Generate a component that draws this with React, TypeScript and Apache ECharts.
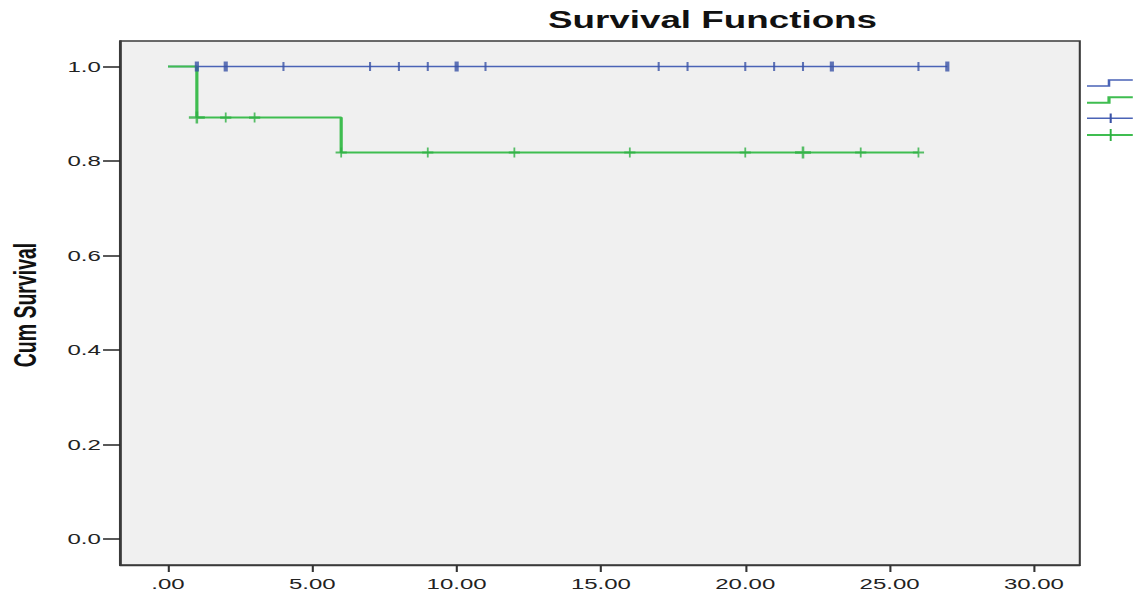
import { useEffect, useRef } from 'react';
import * as echarts from 'echarts';

// The plot is laid out in a narrow frame and widened horizontally by CSS.
const STRETCH = 1.6;
const PAGE_W = 1133;
const PAGE_H = 595;
const FRAME_W = PAGE_W / STRETCH;

const xTicks = [0, 5, 10, 15, 20, 25, 30];
const xTickLabels = ['.00', '5.00', '10.00', '15.00', '20.00', '25.00', '30.00'];
const yTicks = [0, 0.2, 0.4, 0.6, 0.8, 1.0];
const yTickLabels = ['0.0', '0.2', '0.4', '0.6', '0.8', '1.0'];

// Group drawn in blue: no events, survival stays at 1
const blueTimes = [0, 27];
const blueSurvival = [1.0, 1.0];
const blueCensored = [1, 1, 2, 2, 4, 7, 8, 9, 10, 10, 11, 17, 18, 20, 21, 22, 23, 23, 26, 27, 27];

// Group drawn in green: drops at 1 and 6
const greenTimes = [0, 1, 6, 26];
const greenSurvival = [1.0, 0.892, 0.818, 0.818];
const greenCensored = [1, 1, 2, 3, 6, 9, 12, 16, 20, 22, 22, 24, 26];

const BLUE = '#4a63b6';
const BLUE_MARK = '#3a52a6';
const GREEN = '#3fbd50';
const GREEN_MARK = '#2fb043';
const FONT = '"Liberation Sans", Arial, sans-serif';

const PLUS = 'path://M4.2,0H5.8V3.9H10V6.1H5.8V10H4.2V6.1H0V3.9H4.2Z';

function survivalAt(times: number[], surv: number[], t: number) {
  let s = surv[0];
  for (let i = 0; i < times.length; i++) if (times[i] <= t) s = surv[i];
  return s;
}

function censorMarks(times: number[], surv: number[], censored: number[], single: number[], double: number[]) {
  const counts = new Map<number, number>();
  censored.forEach((t) => counts.set(t, (counts.get(t) || 0) + 1));
  return Array.from(counts.entries()).map(([t, n]) => ({
    value: [t, survivalAt(times, surv, t)],
    symbolSize: n > 1 ? double : single,
  }));
}

function tickLabel(ticks: number[], labels: string[], v: number) {
  const i = ticks.findIndex((t) => Math.abs(t - v) < 1e-9);
  return i >= 0 ? labels[i] : '';
}

export default function App() {
  const ref = useRef<HTMLDivElement>(null);

  useEffect(() => {
    if (!ref.current) return;
    const chart = echarts.init(ref.current, null, { renderer: 'svg' });

    const legendX0 = 1087 / STRETCH;
    const legendStep = 1109 / STRETCH;
    const legendMark = 1110.7 / STRETCH;
    const legendX1 = 1140 / STRETCH;

    chart.setOption({
      animation: false,
      backgroundColor: '#ffffff',
      grid: {
        left: 120 / STRETCH,
        right: FRAME_W - 1080 / STRETCH,
        top: 41,
        bottom: PAGE_H - 565,
        show: true,
        backgroundColor: '#f0f0f0',
        borderColor: '#3a3a3a',
        borderWidth: 1.3,
      },
      xAxis: {
        type: 'value',
        min: -1.663,
        max: 31.59,
        axisLine: { show: true, onZero: false, lineStyle: { color: '#3a3a3a', width: 1.3 } },
        axisTick: { show: true, customValues: xTicks, length: 7, lineStyle: { color: '#333', width: 1.3 } },
        axisLabel: {
          customValues: xTicks,
          formatter: (v: number) => tickLabel(xTicks, xTickLabels, v),
          margin: 11,
          color: '#222',
          fontSize: 15,
          fontFamily: FONT,
        },
        splitLine: { show: false },
      },
      yAxis: {
        type: 'value',
        min: -0.055,
        max: 1.054,
        axisLine: { show: true, onZero: false, lineStyle: { color: '#3a3a3a', width: 1.3 } },
        axisTick: { show: true, customValues: yTicks, length: 10.6, lineStyle: { color: '#222', width: 1.5 } },
        axisLabel: {
          customValues: yTicks,
          formatter: (v: number) => tickLabel(yTicks, yTickLabels, v),
          margin: 12,
          color: '#222',
          fontSize: 15,
          fontFamily: FONT,
        },
        splitLine: { show: false },
      },
      series: [
        {
          type: 'line',
          step: 'end',
          data: blueTimes.map((t, i) => [t, blueSurvival[i]]),
          showSymbol: false,
          lineStyle: { color: BLUE, width: 1.6 },
          z: 2,
        },
        {
          type: 'line',
          step: 'end',
          data: greenTimes.map((t, i) => [t, greenSurvival[i]]),
          showSymbol: false,
          lineStyle: { color: GREEN, width: 2 },
          z: 3,
        },
        {
          type: 'scatter',
          symbol: 'rect',
          data: censorMarks(blueTimes, blueSurvival, blueCensored, [1.3, 9], [2.6, 10]),
          itemStyle: { color: BLUE_MARK },
          z: 4,
        },
        {
          type: 'scatter',
          symbol: PLUS,
          data: censorMarks(greenTimes, greenSurvival, greenCensored, [7, 10], [10, 12]),
          itemStyle: { color: GREEN_MARK },
          z: 5,
        },
      ],
      graphic: [
        {
          type: 'text',
          x: 712.5 / STRETCH,
          y: 20.5,
          style: {
            text: 'Survival Functions',
            align: 'center',
            verticalAlign: 'middle',
            font: `bold 23px ${FONT}`,
            fill: '#111',
          },
        },
        {
          type: 'text',
          x: 25 / STRETCH,
          y: 305,
          rotation: Math.PI / 2,
          style: {
            text: 'Cum Survival',
            align: 'center',
            verticalAlign: 'middle',
            font: `bold 19.5px ${FONT}`,
            fill: '#111',
          },
        },
        {
          type: 'polyline',
          shape: { points: [[legendX0, 86], [legendStep, 86], [legendStep, 80], [legendX1, 80]] },
          style: { stroke: BLUE, lineWidth: 1.6, fill: null },
        },
        {
          type: 'polyline',
          shape: { points: [[legendX0, 102.7], [legendStep, 102.7], [legendStep, 97.3], [legendX1, 97.3]] },
          style: { stroke: GREEN, lineWidth: 2, fill: null },
        },
        {
          type: 'line',
          shape: { x1: legendX0, y1: 118.3, x2: legendX1, y2: 118.3 },
          style: { stroke: BLUE, lineWidth: 1.6 },
        },
        {
          type: 'rect',
          shape: { x: legendMark - 0.65, y: 113.5, width: 1.3, height: 9.6 },
          style: { fill: BLUE_MARK },
        },
        {
          type: 'line',
          shape: { x1: legendX0, y1: 135, x2: legendX1, y2: 135 },
          style: { stroke: GREEN, lineWidth: 2 },
        },
        {
          type: 'rect',
          shape: { x: legendMark - 0.6, y: 129, width: 1.2, height: 12 },
          style: { fill: GREEN_MARK },
        },
      ],
    });

    return () => chart.dispose();
  }, []);

  return (
    <div
      ref={ref}
      style={{
        position: 'absolute',
        left: 0,
        top: 0,
        width: `${FRAME_W}px`,
        height: `${PAGE_H}px`,
        transform: `scaleX(${STRETCH})`,
        transformOrigin: '0 0',
      }}
    />
  );
}
